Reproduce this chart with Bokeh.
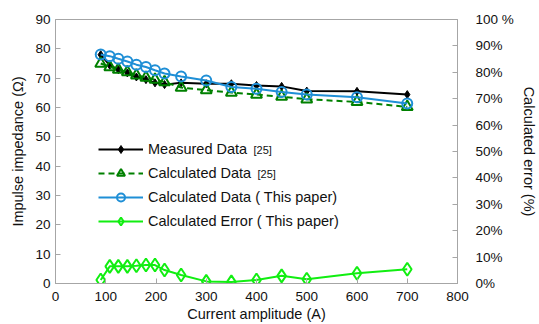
from bokeh.plotting import figure
from bokeh.models import (Range1d, LinearAxis, FixedTicker, PrintfTickFormatter,
                          Legend, LegendItem, Label)
from bokeh.embed import file_html
from bokeh.resources import INLINE

# ---- data ----
current = [90, 108, 125, 143, 161, 180, 198, 217, 250, 300, 350, 400, 450, 500, 600, 700]
measured_25 = [78.0, 74.4, 72.9, 71.8, 70.4, 69.5, 68.4, 67.8, 68.4, 68.1, 68.1, 67.5, 67.2, 65.6, 65.5, 64.4]
calculated_25 = [75.0, 73.8, 72.9, 72.1, 71.0, 70.2, 69.5, 68.7, 66.8, 65.9, 65.1, 64.4, 63.7, 62.8, 61.9, 60.2]
calculated_this = [78.1, 77.5, 76.6, 75.7, 74.6, 73.8, 72.7, 71.6, 70.6, 69.2, 67.0, 66.4, 65.3, 64.4, 63.5, 61.4]
error_this = [1.3, 6.5, 6.5, 6.5, 6.7, 7.0, 7.0, 5.1, 3.2, 0.8, 0.6, 1.3, 2.9, 1.6, 3.9, 5.4]

x_ticks = [0, 100, 200, 300, 400, 500, 600, 700, 800]
y_ticks = [0, 10, 20, 30, 40, 50, 60, 70, 80, 90]
err_ticks = [0, 10, 20, 30, 40, 50, 60, 70, 80, 90, 100]

FONT = "Liberation Sans"
GRAY = "#a6a6a6"

p = figure(width=539, height=324, output_backend="svg", toolbar_location=None,
           x_range=Range1d(0, 800), y_range=Range1d(0, 90),
           min_border_left=55, min_border_right=82, min_border_top=19, min_border_bottom=40)
p.extra_y_ranges = {"err": Range1d(0, 100)}
p.xgrid.visible = False
p.ygrid.visible = False
p.outline_line_color = GRAY
p.background_fill_color = "white"
p.border_fill_color = "white"


def style_axis(ax, ticks):
    ax.ticker = FixedTicker(ticks=ticks)
    ax.minor_tick_line_color = None
    ax.major_tick_in = 5
    ax.major_tick_out = 0
    ax.major_tick_line_color = GRAY
    ax.axis_line_color = GRAY
    ax.major_label_text_font = FONT
    ax.major_label_text_font_size = "13.5px"
    ax.major_label_text_color = "#111111"
    ax.axis_label_text_font = FONT
    ax.axis_label_text_font_size = "14.5px"
    ax.axis_label_text_font_style = "normal"
    ax.axis_label_text_color = "#111111"


style_axis(p.xaxis[0], x_ticks)
p.xaxis[0].axis_label = "Current amplitude (A)"
p.xaxis[0].major_label_standoff = 8
p.xaxis[0].axis_label_standoff = 2

style_axis(p.yaxis[0], y_ticks)
p.yaxis[0].axis_label = "Impulse impedance (\u03a9)"
p.yaxis[0].major_label_standoff = 5
p.yaxis[0].axis_label_standoff = 6

right = LinearAxis(y_range_name="err")
style_axis(right, err_ticks)
right.formatter = PrintfTickFormatter(format="%d%%")
right.major_label_overrides = {100: "100 %"}
right.axis_label = "Calculated error (%)"
right.major_label_standoff = 18
right.axis_label_standoff = 4
p.add_layout(right, "right")

# ---- series ----
l1 = p.line(current, measured_25, line_color="black", line_width=2)
m1 = p.scatter(current, measured_25, marker="diamond", size=8, fill_color="black",
               line_color="black", line_width=1)

l2 = p.line(current, calculated_25, line_color="#008000", line_width=2, line_dash="6 4")
m2 = p.scatter(current, calculated_25, marker="triangle", size=11, fill_color=None,
               line_color="#008000", line_width=2)

l3 = p.line(current, calculated_this, line_color="#1f8fd6", line_width=2)
m3 = p.scatter(current, calculated_this, marker="circle", size=10, fill_color=None,
               line_color="#1f8fd6", line_width=2)

l4 = p.line(current, error_this, line_color="#11ee11", line_width=2, y_range_name="err")
m4 = p.scatter(current, error_this, marker="diamond", size=13, fill_color=None,
               line_color="#11ee11", line_width=2, y_range_name="err")

legend = Legend(items=[
    LegendItem(label="Measured Data", renderers=[l1, m1]),
    LegendItem(label="Calculated Data", renderers=[l2, m2]),
    LegendItem(label="Calculated Data ( This paper)", renderers=[l3, m3]),
    LegendItem(label="Calculated Error ( This paper)", renderers=[l4, m4]),
], location=(43, 52), glyph_width=45, glyph_height=20, label_height=20, spacing=4,
    padding=0, margin=0, border_line_color=None, background_fill_alpha=0,
    label_text_font=FONT, label_text_font_size="14.5px", label_standoff=5,
    label_text_color="#111111")
p.add_layout(legend)

for xx, yy in [(394, 45.5), (402, 37.4)]:
    p.add_layout(Label(x=xx, y=yy, text="[25]", text_font=FONT, text_font_size="11px",
                       text_baseline="middle", text_color="#111111"))

open("out.html", "w").write(file_html(p, INLINE))
